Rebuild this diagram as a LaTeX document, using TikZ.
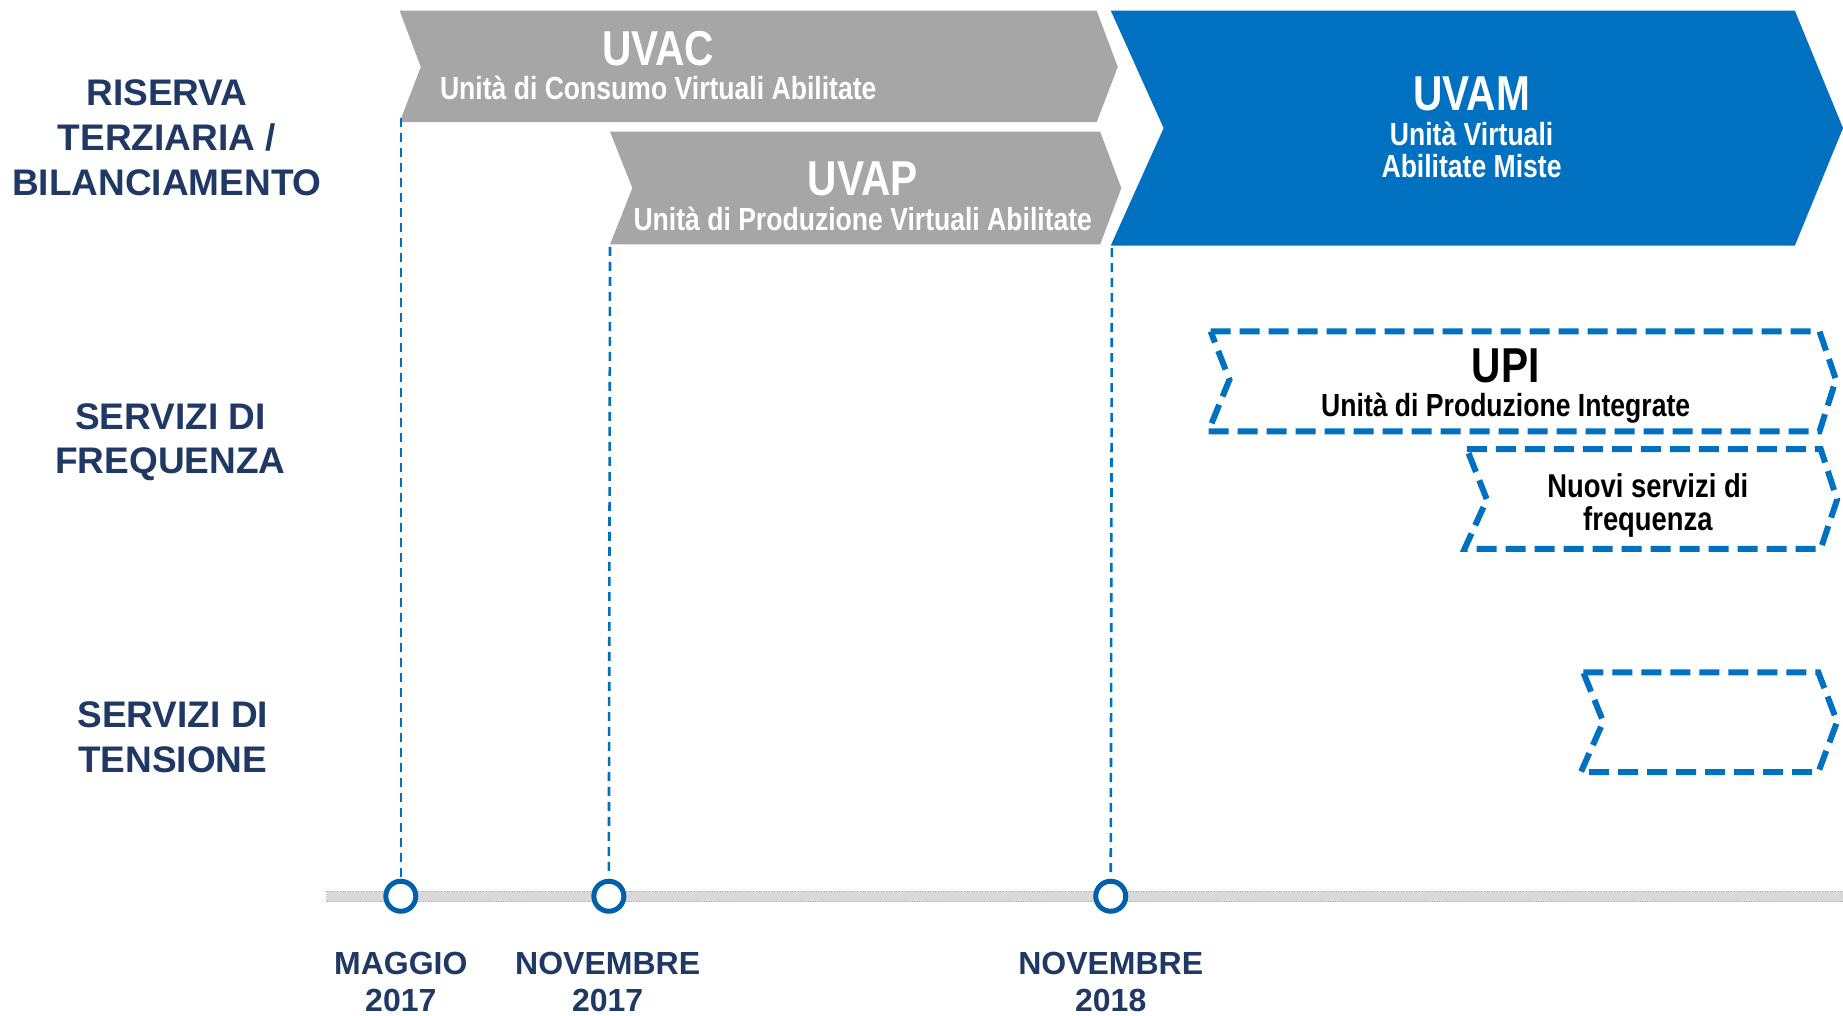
\documentclass[tikz,border=0pt]{standalone}
\usepackage{fontspec}
\setmainfont{Liberation Sans}
\newfontfamily\narrowfont[FakeStretch=0.83]{Liberation Sans}
\usetikzlibrary{calc}

\definecolor{navy}{RGB}{31,56,100}
\definecolor{chevgray}{RGB}{166,166,166}
\definecolor{tblue}{RGB}{0,112,192}
\definecolor{mblue}{RGB}{0,96,170}
\definecolor{barfill}{RGB}{217,217,217}
\definecolor{baredge}{RGB}{160,175,170}

\tikzset{
  rowlabel/.style={text=navy, font=\fontsize{37}{44}\selectfont\bfseries, anchor=base, inner sep=0pt},
  datelabel/.style={text=navy, font=\fontsize{32}{36}\selectfont\bfseries, anchor=base, inner sep=0pt},
  ttl/.style={font=\narrowfont\fontsize{49}{55}\selectfont\bfseries, anchor=base, inner sep=0pt},
  subttl/.style={font=\narrowfont\fontsize{32}{34}\selectfont\bfseries, anchor=base, inner sep=0pt},
  grayfill/.style={fill=chevgray},
  bluefill/.style={fill=tblue},
  dashchev/.style={draw=tblue, line width=6pt, dash pattern=on 20pt off 9pt, line join=miter},
  guide/.style={draw=tblue, line width=2.6pt, dash pattern=on 9pt off 6pt},
  milestone/.style={circle, draw=mblue, line width=5pt, fill=white, minimum size=30pt, inner sep=0pt},
}

\begin{document}
\begin{tikzpicture}[x=1.1754pt,y=-1.1754pt]
\useasboundingbox (0,0) rectangle (1568,864);

% row headings
\node[rowlabel] (r1a) at (142,90) {RISERVA};
\node[rowlabel] (r1b) at (142,128) {TERZIARIA /};
\node[rowlabel] (r1c) at (142,166) {BILANCIAMENTO};
\node[rowlabel] (r2a) at (145,365) {SERVIZI DI};
\node[rowlabel] (r2b) at (145,403) {FREQUENZA};
\node[rowlabel] (r3a) at (147,619) {SERVIZI DI};
\node[rowlabel] (r3b) at (147,657) {TENSIONE};

% solid chevrons
\fill[grayfill] (340,9) -- (933,9) -- (951,57) -- (933,104) -- (340,104) -- (358,57) -- cycle;
\fill[grayfill] (519,112) -- (936,112) -- (954,160) -- (936,208) -- (519,208) -- (538,160) -- cycle;
\fill[bluefill] (945,9) -- (1527,9) -- (1568,109) -- (1527,209) -- (945,209) -- (990,109) -- cycle;

\node[ttl, text=white] (uvacT) at (560,56) {UVAC};
\node[subttl, text=white] (uvacS) at (560,85) {Unità di Consumo Virtuali Abilitate};
\node[ttl, text=white] (uvapT) at (734,166) {UVAP};
\node[subttl, text=white] (uvapS) at (734,196) {Unità di Produzione Virtuali Abilitate};
\node[ttl, text=white] (uvamT) at (1252,94) {UVAM};
\node[subttl, text=white] (uvamS1) at (1252,124) {Unità Virtuali};
\node[subttl, text=white] (uvamS2) at (1252,151) {Abilitate Miste};

% dashed chevrons
\draw[dashchev] (1030,282) -- (1548,282) -- (1562,323) -- (1548,367) -- (1028,367) -- (1046,323) -- cycle;
\draw[dashchev] (1248,382) -- (1549,382) -- (1563,425) -- (1549,467) -- (1246,467) -- (1265,425) -- cycle;
\draw[dashchev] (1347,572) -- (1547,572) -- (1563,614) -- (1547,657) -- (1345,657) -- (1364,614) -- cycle;

\node[ttl, text=black] (upiT) at (1281,325) {UPI};
\node[subttl, text=black] (upiS) at (1281,354) {Unità di Produzione Integrate};
\node[subttl, text=black, font=\narrowfont\fontsize{33}{34}\selectfont\bfseries] (nsf1) at (1402,423) {Nuovi servizi di};
\node[subttl, text=black, font=\narrowfont\fontsize{33}{34}\selectfont\bfseries] (nsf2) at (1402,451) {frequenza};

% timeline bar
\filldraw[fill=barfill, draw=baredge, line width=0.6pt, dotted] (278,758) rectangle (1570,767);

% milestones
\node[milestone] (m1) at (341,762.5) {};
\node[milestone] (m2) at (518,762.5) {};
\node[milestone] (m3) at (945,762.5) {};

% guide lines from the chevrons down to the milestones
\coordinate (f1) at (341,100);
\coordinate (f2) at (519,210);
\coordinate (f3) at (946,211);
\draw[guide] (f1) -- ([yshift=2pt]m1.north);
\draw[guide] (f2) -- ([yshift=2pt]m2.north);
\draw[guide] (f3) -- ([yshift=2pt]m3.north);

% dates
\node[datelabel] (d1a) at (341,829.5) {MAGGIO};
\node[datelabel] (d1b) at (341,860.5) {2017};
\node[datelabel] (d2a) at (517,829.5) {NOVEMBRE};
\node[datelabel] (d2b) at (517,860.5) {2017};
\node[datelabel] (d3a) at (945,829.5) {NOVEMBRE};
\node[datelabel] (d3b) at (945,860.5) {2018};
\end{tikzpicture}
\end{document}
